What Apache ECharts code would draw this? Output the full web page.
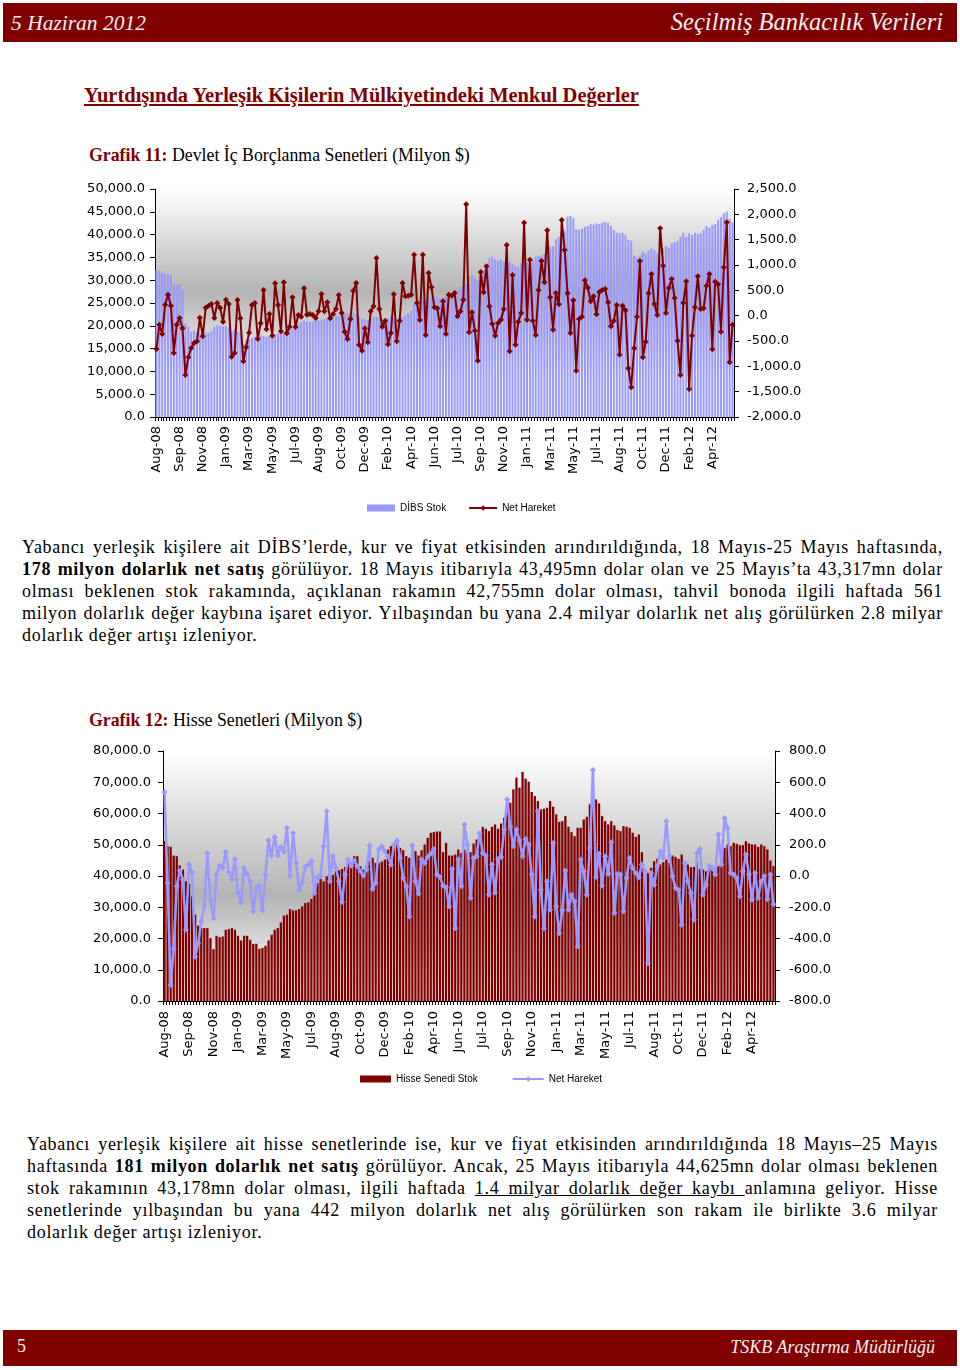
<!DOCTYPE html>
<html>
<head>
<meta charset="utf-8">
<script src="https://cdn.jsdelivr.net/npm/echarts@6/dist/echarts.min.js"></script>
<style>
  html, body { margin:0; padding:0; background:#fff; }
  body { width:960px; height:1370px; position:relative; overflow:hidden; font-family:'Liberation Serif', serif; color:#000; }
  .bar { position:absolute; left:3px; width:954px; background:#800000; color:#f4f0f0; font-style:italic; }
  .abs { position:absolute; }
  .para { position:absolute; font-size:18px; line-height:22px; letter-spacing:0.7px; }
  .para div { text-align:justify; text-align-last:justify; white-space:nowrap; }
  .para div.last { text-align:left; text-align-last:left; }
</style>
</head>
<body>
<div class="bar" style="top:3px;height:39px;">
  <span class="abs" style="left:8px;top:8px;font-size:21.5px;">5 Haziran 2012</span>
  <span class="abs" style="right:14px;top:5px;font-size:24.5px;">Seçilmiş Bankacılık Verileri</span>
</div>
<div class="abs" style="left:84px;top:84px;font-size:20.5px;font-weight:bold;color:#800000;text-decoration:underline;">Yurtdışında Yerleşik Kişilerin Mülkiyetindeki Menkul Değerler</div>
<div class="abs" style="left:89px;top:145px;font-size:17.8px;"><b style="color:#800000">Grafik 11:</b> Devlet İç Borçlanma Senetleri (Milyon $)</div>
<div id="c1" class="abs" style="left:0;top:175px;width:960px;height:345px;"></div>
<div class="para" style="left:22px;top:536px;width:921px;">
  <div>Yabancı yerleşik kişilere ait DİBS’lerde, kur ve fiyat etkisinden arındırıldığında, 18 Mayıs-25 Mayıs haftasında,</div>
  <div><b>178 milyon dolarlık net satış</b> görülüyor. 18 Mayıs itibarıyla 43,495mn dolar olan ve 25 Mayıs’ta 43,317mn dolar</div>
  <div>olması beklenen stok rakamında, açıklanan rakamın 42,755mn dolar olması, tahvil bonoda ilgili haftada 561</div>
  <div>milyon dolarlık değer kaybına işaret ediyor. Yılbaşından bu yana 2.4 milyar dolarlık net alış görülürken 2.8 milyar</div>
  <div class="last">dolarlık değer artışı izleniyor.</div>
</div>
<div class="abs" style="left:89px;top:710px;font-size:17.8px;"><b style="color:#800000">Grafik 12:</b> Hisse Senetleri (Milyon $)</div>
<div id="c2" class="abs" style="left:0;top:740px;width:960px;height:352px;"></div>
<div class="para" style="left:27px;top:1133px;width:911px;">
  <div>Yabancı yerleşik kişilere ait hisse senetlerinde ise, kur ve fiyat etkisinden arındırıldığında 18 Mayıs–25 Mayıs</div>
  <div>haftasında <b>181 milyon dolarlık net satış</b> görülüyor. Ancak, 25 Mayıs itibarıyla 44,625mn dolar olması beklenen</div>
  <div>stok rakamının 43,178mn dolar olması, ilgili haftada <u>1.4 milyar dolarlık değer kaybı </u>anlamına geliyor. Hisse</div>
  <div>senetlerinde yılbaşından bu yana 442 milyon dolarlık net alış görülürken son rakam ile birlikte 3.6 milyar</div>
  <div class="last">dolarlık değer artışı izleniyor.</div>
</div>
<div class="bar" style="top:1330px;height:36px;font-style:normal;">
  <span class="abs" style="left:14px;top:6px;font-size:18px;">5</span>
  <span class="abs" style="right:22px;top:7px;font-size:18px;font-style:italic;">TSKB Araştırma Müdürlüğü</span>
</div>
<script>
const tickLabels = ['Aug-08','Sep-08','Nov-08','Jan-09','Mar-09','May-09','Jul-09','Aug-09','Oct-09','Dec-09','Feb-10','Apr-10','Jun-10','Jul-10','Sep-10','Nov-10','Jan-11','Mar-11','May-11','Jul-11','Aug-11','Oct-11','Dec-11','Feb-12','Apr-12'];
const weeks = Array.from({length: 200}, (_, i) => new Date(Date.UTC(2008, 7, 1 + 7 * i)).toISOString().slice(0, 10));

const dibsStock = [32240,32090,31650,31510,31290,31140,29170,28950,29310,27850,
20540,19810,18710,18930,18490,18350,18350,18570,18490,18930,
19810,20100,20030,19810,19960,19660,18710,19230,18710,18490,
16160,16890,17030,17330,17620,17620,17910,17760,17620,17760,
17760,18200,18350,18640,18710,18930,19230,19370,19810,20400,
20830,21130,20980,20830,20980,21270,21200,21350,21490,21710,
22000,21860,22300,22150,22000,22590,22880,22590,22880,22730,
22000,21570,21420,21270,21420,22000,22000,21860,21270,21490,
21640,22000,21420,21420,21710,22000,22370,22730,23320,24780,
25660,25800,25510,25660,25950,26240,26390,26100,26020,26240,
26540,26760,27120,27410,27850,28440,28730,29170,30780,31070,
30410,30040,30190,32240,33550,34800,35160,34580,34280,34580,
34140,33850,34070,33550,33110,32820,33700,33850,33990,34070,
34430,35160,35310,35450,35750,36260,37350,37500,38960,39550,
40130,40860,43930,44080,43570,41160,41010,41300,41740,41890,
42330,42180,42470,42330,42620,42760,42620,41890,41010,40420,
40280,40420,39910,38820,38670,35310,35020,35450,36260,35890,
36480,36990,36620,35890,34430,36990,37500,37210,38090,38380,
38670,39550,40420,39550,40280,39910,40420,40130,40280,41010,
41890,41520,42110,42330,43200,43790,44660,45030,43495,42755];

const dibsNet = [-658,-178,-362,217,414,197,-737,-178,-46,-250,
-1171,-822,-638,-540,-507,-39,-408,158,197,230,
-46,250,158,-118,316,230,-809,-737,309,-53,
-901,-625,-336,211,250,-461,-151,507,-270,33,
-395,638,211,-309,658,-349,-217,362,-224,13,
-20,540,20,33,13,-46,86,428,86,263,
-53,33,132,408,53,-316,-461,-66,493,645,
-572,-691,-250,-526,86,184,1138,132,-217,-99,
-566,-342,421,-507,-99,645,382,395,414,1204,
250,-86,1204,-382,842,559,165,145,-211,283,
-362,414,395,447,-13,86,316,2198,-329,66,
-296,-888,862,461,974,184,-158,-395,-145,-79,
132,1395,-704,803,-572,-118,53,1836,-79,1105,
-99,-382,507,1079,658,1684,362,-276,447,224,
1888,1296,441,-342,303,-1086,-66,-20,697,553,
283,382,26,467,507,526,263,-211,-99,211,
-770,197,105,-1040,-1415,-645,-20,1079,-822,-513,
441,823,230,13,1724,987,53,546,724,349,
-494,-1171,250,678,-1448,-395,165,776,132,145,
592,823,-665,671,618,-316,954,1842,-921,-178];

const hisseStock = [51150,49540,49330,46550,46330,43340,42050,38310,37560,33490,
27610,24080,23330,23330,23330,20120,16590,20870,20440,20650,
22790,23010,23330,22790,20870,19370,20870,20870,19580,18300,
18300,16690,17010,17660,19370,21190,22790,23330,25150,27290,
27610,29430,29000,29000,29430,30280,31350,31570,32640,34560,
37770,39060,38310,39910,40980,40340,41520,41840,42270,42910,
44190,44410,46330,46330,43120,42050,43120,44730,45800,44190,
44190,44620,45260,48470,49540,50400,49860,49010,48260,46330,
45800,47400,47940,46550,48260,50080,52220,53820,54040,54250,
54250,47620,50610,46550,46550,46870,48470,47400,48470,47400,
47620,50400,51680,52750,55750,55110,54360,55750,56500,55110,
56820,58640,60780,63450,67730,71480,68270,73300,71160,70190,
66880,65590,63990,61310,61530,61850,63990,62170,59710,57350,
57570,59170,55750,54040,52750,55430,55430,58100,58960,62920,
64520,64520,63240,59170,57570,56500,57570,56180,54680,54360,
55960,55750,55430,53820,52540,53290,47620,40980,40980,42590,
44730,45480,43660,44410,45260,44190,46550,46120,45480,46870,
44410,43660,42800,42910,44410,42270,42050,41520,42590,41840,
41520,43120,48690,49010,50080,49540,50610,50290,49860,49860,
51150,50400,50080,50080,49330,50080,49540,48470,44940,43178];

const hisseNet = [537,-45,-697,-466,-66,36,-24,-344,73,24,
-516,-430,-291,-190,148,-152,-270,9,66,51,
154,24,-24,109,-109,-169,51,15,-36,-227,
-77,-62,-220,9,229,130,250,130,186,154,
308,-2,276,83,-88,-41,58,73,96,-109,
-6,-2,190,415,-34,130,51,-34,-167,9,
105,66,100,62,30,2,41,195,-83,-45,
169,190,158,126,73,201,227,116,-13,-66,
-259,195,-34,-113,105,83,122,143,173,9,
-6,-62,-73,-195,45,-334,105,-66,329,201,
-141,116,126,276,148,130,-120,73,-105,109,
122,297,490,314,190,297,229,126,237,201,
9,-259,415,-88,-334,-34,-216,212,-195,-366,
-220,36,-216,-120,-163,-451,105,30,-120,180,
678,-6,143,-62,126,15,216,-237,13,9,
-227,-13,116,51,19,-9,73,30,-558,19,
-56,62,158,116,351,126,-2,-77,-88,-312,
83,-34,-109,-280,148,173,-120,-56,66,51,
9,265,73,372,308,19,9,-13,-130,30,
137,9,-152,19,-141,-34,-2,-148,9,-181];

const fmt = v => v.toLocaleString('en-US', {minimumFractionDigits: 1, maximumFractionDigits: 1});
const axisFont = {fontFamily: "'DejaVu Sans', sans-serif", fontSize: 13, color: '#000'};

function grad(mid) {
  return {type: 'linear', x: 0, y: 0, x2: 0, y2: 1, colorStops: [
    {offset: 0, color: '#ffffff'},
    {offset: mid, color: '#b4b4b4'},
    {offset: Math.min(mid + 0.38, 1), color: '#ffffff'},
    {offset: 1, color: '#ffffff'}
  ]};
}

function valueAxis(min, max, interval, position, margin) {
  return {
    type: 'value', min, max, interval, position,
    axisLine: {show: true, lineStyle: {color: '#000', width: 1}},
    axisTick: {show: true, length: 5, lineStyle: {color: '#000'}},
    splitLine: {show: false},
    axisLabel: Object.assign({margin, formatter: fmt}, axisFont)
  };
}

function catAxis(margin) {
  return {
    type: 'category', data: weeks, boundaryGap: true,
    axisLine: {show: true, lineStyle: {color: '#000', width: 1}},
    axisTick: {show: true, interval: 0, length: 4, lineStyle: {color: '#000'}},
    axisLabel: Object.assign({interval: 7, rotate: 90, margin,
      formatter: (v, i) => (i % 8 === 0 && tickLabels[i / 8]) ? tickLabels[i / 8] : ''}, axisFont),
    splitLine: {show: false}
  };
}

function makeChart(el, cfg) {
  const chart = echarts.init(document.getElementById(el), null, {renderer: 'canvas'});
  chart.setOption({
    animation: false,
    grid: Object.assign({show: true, borderWidth: 0, backgroundColor: grad(cfg.mid), containLabel: false}, cfg.grid),
    legend: {
      left: cfg.legendLeft, top: cfg.legendTop, itemGap: cfg.legendGap,
      itemWidth: cfg.legendW, itemHeight: 7,
      textStyle: {fontFamily: "'Liberation Sans Narrow', 'Liberation Sans', sans-serif", fontSize: 10, color: '#000'},
      data: [{name: cfg.barName, icon: 'rect'}, {name: 'Net Hareket'}]
    },
    xAxis: catAxis(cfg.xMargin),
    yAxis: [cfg.left, cfg.right],
    series: [
      {name: cfg.barName, type: 'bar', data: cfg.bars, yAxisIndex: 0, barCategoryGap: cfg.gap,
       itemStyle: {color: cfg.barColor}},
      {name: 'Net Hareket', type: 'line', data: cfg.line, yAxisIndex: 1, showAllSymbol: true,
       symbol: 'diamond', symbolSize: cfg.sym, lineStyle: {color: cfg.lineColor, width: cfg.lw},
       itemStyle: {color: cfg.lineColor}}
    ]
  });
}

makeChart('c1', {
  grid: {left: 155, top: 14, width: 579, height: 228},
  mid: 0.45, xMargin: 9,
  left: valueAxis(0, 50000, 5000, 'left', 10),
  right: valueAxis(-2000, 2500, 500, 'right', 13),
  barName: 'DİBS Stok', bars: dibsStock, barColor: '#9999ff', gap: '30%',
  line: dibsNet, lineColor: '#800000', lw: 2, sym: 6,
  legendLeft: 362, legendTop: 323, legendGap: 22, legendW: 28
});

makeChart('c2', {
  grid: {left: 163, top: 11, width: 612, height: 250},
  mid: 0.58, xMargin: 10,
  left: valueAxis(0, 80000, 10000, 'left', 12),
  right: valueAxis(-800, 800, 200, 'right', 14),
  barName: 'Hisse Senedi Stok', bars: hisseStock, barColor: '#800000', gap: '25%',
  line: hisseNet, lineColor: '#9999ff', lw: 2.5, sym: 6,
  legendLeft: 355, legendTop: 329, legendGap: 34, legendW: 31
});
</script>
</body>
</html>
